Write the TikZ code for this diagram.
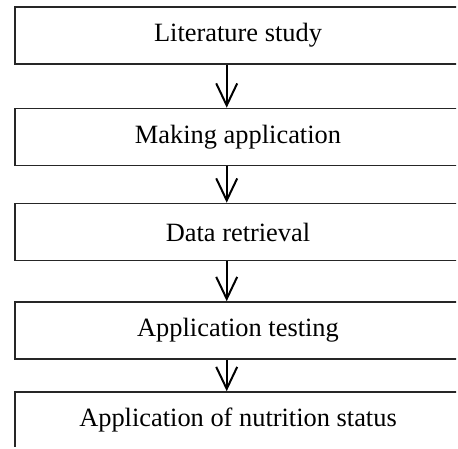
\documentclass[tikz,border=0pt]{standalone}
\usepackage{fontspec}
\setmainfont{Liberation Serif}
\usepackage{tikz}
\usetikzlibrary{arrows.meta,positioning}
\tikzset{
    stage/.style={
        draw=black!85,line width=0.8pt,
        minimum width=223pt,minimum height=28.5pt,
        inner sep=0pt,align=center,
        font=\fontsize{13.2}{15}\selectfont
    },
    arrow/.style={
        -{Straight Barb[length=11pt,width=10.5pt,line width=1pt]},line width=1pt
    }
}

\begin{document}
\begin{tikzpicture}[x=0.5pt,y=-0.5pt]

\useasboundingbox (0,0) rectangle (458,448);
% boxes run past the right and bottom edge
\clip (0,0) rectangle (456,446);

\node[stage] (lit) at (238,35.5) {Literature study};
\node[stage] (make) at (238,137) {Making application};
\node[stage] (data) at (238,232) {Data retrieval};
\node[stage] (test) at (238,330.5) {Application testing};
\node[stage] (nut) at (238,420.5) {Application of nutrition status};

\draw[arrow]([xshift=-5.65pt]lit.south)--([xshift=-5.65pt]make.north);
\draw[arrow]([xshift=-5.65pt]make.south)--([xshift=-5.65pt]data.north);
\draw[arrow]([xshift=-5.65pt]data.south)--([xshift=-5.65pt]test.north);
\draw[arrow]([xshift=-5.65pt]test.south)--([xshift=-5.65pt]nut.north);

\end{tikzpicture}
\end{document}
